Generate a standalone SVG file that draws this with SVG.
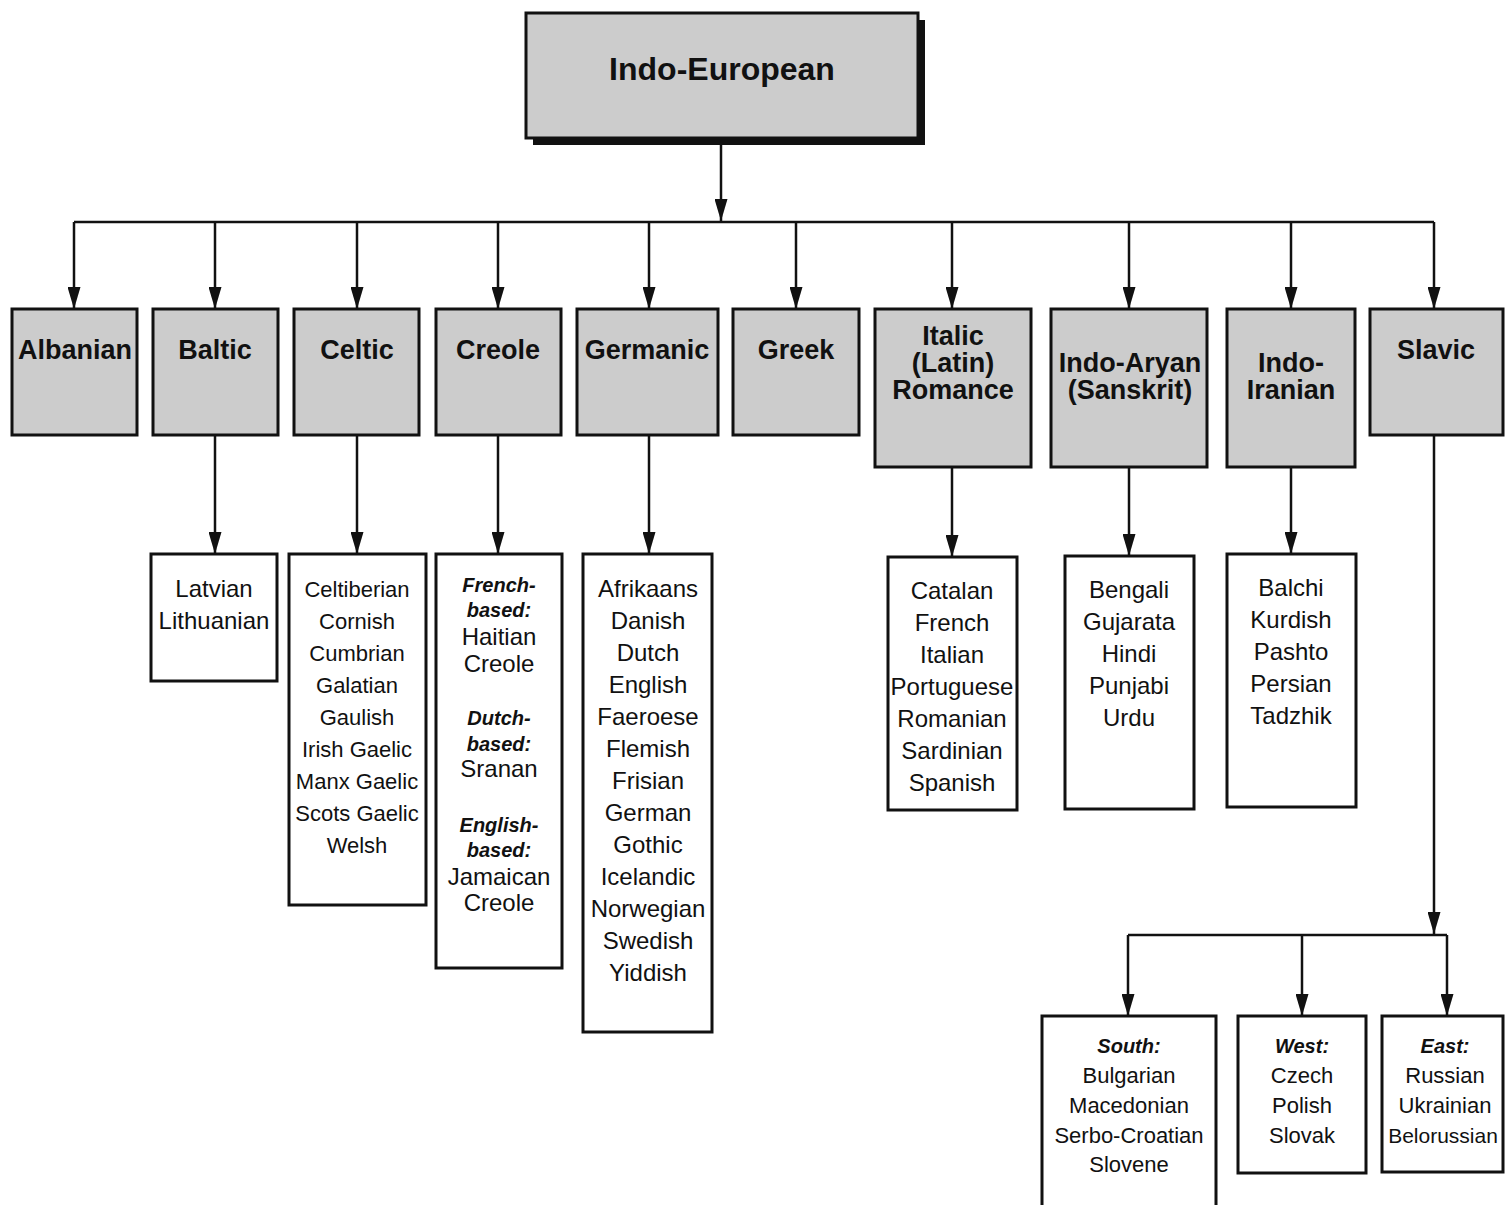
<svg xmlns="http://www.w3.org/2000/svg" width="1505" height="1205" viewBox="0 0 1505 1205">
<style>
.fam{fill:#cccccc;stroke:#111;stroke-width:3}
.lst{fill:#ffffff;stroke:#111;stroke-width:3}
.conn{fill:none;stroke:#111;stroke-width:2.5;marker-end:url(#ah)}
.bar{fill:none;stroke:#111;stroke-width:2.5}
text{font-family:"Liberation Sans",Arial,sans-serif;text-anchor:middle;fill:#111}
.ft{font-size:27px;font-weight:bold}
.l24{font-size:24px}
.l22{font-size:22px}
.bi{font-size:20px;font-weight:bold;font-style:italic}
</style>
<defs>
<marker id="ah" viewBox="0 0 22 13" refX="22" refY="6.5" markerWidth="22" markerHeight="13" markerUnits="userSpaceOnUse" orient="auto">
<path d="M0,0 L22,6.5 L0,13 z" fill="#111"/>
</marker>
</defs>
<rect width="1505" height="1205" fill="#ffffff"/>

<g id="connectors">
<path class="conn" d="M721,138 V221"/>
<path class="bar" d="M74,222 H1434"/>
<path class="conn" d="M74,222 V309"/>
<path class="conn" d="M215,222 V309"/>
<path class="conn" d="M357,222 V309"/>
<path class="conn" d="M498,222 V309"/>
<path class="conn" d="M649,222 V309"/>
<path class="conn" d="M796,222 V309"/>
<path class="conn" d="M952,222 V309"/>
<path class="conn" d="M1129,222 V309"/>
<path class="conn" d="M1291,222 V309"/>
<path class="conn" d="M1434,222 V309"/>
<path class="conn" d="M215,435 V554"/>
<path class="conn" d="M357,435 V554"/>
<path class="conn" d="M498,435 V554"/>
<path class="conn" d="M649,435 V554"/>
<path class="conn" d="M952,467 V557"/>
<path class="conn" d="M1129,467 V556"/>
<path class="conn" d="M1291,467 V554"/>
<path class="conn" d="M1434,435 V934"/>
<path class="bar" d="M1128,935 H1447"/>
<path class="conn" d="M1128,935 V1016"/>
<path class="conn" d="M1302,935 V1016"/>
<path class="conn" d="M1447,935 V1016"/>
</g>

<g id="indo-european">
<rect x="533" y="20" width="392" height="125" fill="#111"/>
<rect class="fam" x="526" y="13" width="392" height="125"/>
<text x="722" y="80" style="font-size:32px;font-weight:bold">Indo-European</text>
</g>

<g id="albanian">
<rect class="fam" x="12" y="309" width="125" height="126"/>
<text class="ft" x="75" y="359">Albanian</text>
</g>
<g id="baltic">
<rect class="fam" x="153" y="309" width="125" height="126"/>
<text class="ft" x="215" y="359">Baltic</text>
</g>
<g id="celtic">
<rect class="fam" x="294" y="309" width="125" height="126"/>
<text class="ft" x="357" y="359">Celtic</text>
</g>
<g id="creole">
<rect class="fam" x="436" y="309" width="125" height="126"/>
<text class="ft" x="498" y="359">Creole</text>
</g>
<g id="germanic">
<rect class="fam" x="577" y="309" width="141" height="126"/>
<text class="ft" x="647" y="359">Germanic</text>
</g>
<g id="greek">
<rect class="fam" x="733" y="309" width="126" height="126"/>
<text class="ft" x="796" y="359">Greek</text>
</g>
<g id="italic">
<rect class="fam" x="875" y="309" width="156" height="158"/>
<text class="ft" x="953" y="345">Italic</text>
<text class="ft" x="953" y="372">(Latin)</text>
<text class="ft" x="953" y="399">Romance</text>
</g>
<g id="indo-aryan">
<rect class="fam" x="1051" y="309" width="156" height="158"/>
<text class="ft" x="1130" y="372">Indo-Aryan</text>
<text class="ft" x="1130" y="399">(Sanskrit)</text>
</g>
<g id="indo-iranian">
<rect class="fam" x="1227" y="309" width="128" height="158"/>
<text class="ft" x="1291" y="372">Indo-</text>
<text class="ft" x="1291" y="399">Iranian</text>
</g>
<g id="slavic">
<rect class="fam" x="1370" y="309" width="133" height="126"/>
<text class="ft" x="1436" y="359">Slavic</text>
</g>

<g id="baltic-list">
<rect class="lst" x="151" y="554" width="126" height="127"/>
<text class="l24" x="214" y="597">Latvian</text>
<text class="l24" x="214" y="629">Lithuanian</text>
</g>
<g id="celtic-list">
<rect class="lst" x="289" y="554" width="137" height="351"/>
<text class="l22" x="357" y="597">Celtiberian</text>
<text class="l22" x="357" y="629">Cornish</text>
<text class="l22" x="357" y="661">Cumbrian</text>
<text class="l22" x="357" y="693">Galatian</text>
<text class="l22" x="357" y="725">Gaulish</text>
<text class="l22" x="357" y="757">Irish Gaelic</text>
<text class="l22" x="357" y="789">Manx Gaelic</text>
<text class="l22" x="357" y="821">Scots Gaelic</text>
<text class="l22" x="357" y="853">Welsh</text>
</g>
<g id="creole-list">
<rect class="lst" x="436" y="554" width="126" height="414"/>
<text class="bi" x="499" y="592">French-</text>
<text class="bi" x="499" y="617">based:</text>
<text class="l24" x="499" y="645">Haitian</text>
<text class="l24" x="499" y="672">Creole</text>
<text class="bi" x="499" y="725">Dutch-</text>
<text class="bi" x="499" y="751">based:</text>
<text class="l24" x="499" y="777">Sranan</text>
<text class="bi" x="499" y="832">English-</text>
<text class="bi" x="499" y="857">based:</text>
<text class="l24" x="499" y="885">Jamaican</text>
<text class="l24" x="499" y="911">Creole</text>
</g>
<g id="germanic-list">
<rect class="lst" x="583" y="554" width="129" height="478"/>
<text class="l24" x="648" y="597">Afrikaans</text>
<text class="l24" x="648" y="629">Danish</text>
<text class="l24" x="648" y="661">Dutch</text>
<text class="l24" x="648" y="693">English</text>
<text class="l24" x="648" y="725">Faeroese</text>
<text class="l24" x="648" y="757">Flemish</text>
<text class="l24" x="648" y="789">Frisian</text>
<text class="l24" x="648" y="821">German</text>
<text class="l24" x="648" y="853">Gothic</text>
<text class="l24" x="648" y="885">Icelandic</text>
<text class="l24" x="648" y="917">Norwegian</text>
<text class="l24" x="648" y="949">Swedish</text>
<text class="l24" x="648" y="981">Yiddish</text>
</g>
<g id="italic-list">
<rect class="lst" x="888" y="557" width="129" height="253"/>
<text class="l24" x="952" y="599">Catalan</text>
<text class="l24" x="952" y="631">French</text>
<text class="l24" x="952" y="663">Italian</text>
<text class="l24" x="952" y="695">Portuguese</text>
<text class="l24" x="952" y="727">Romanian</text>
<text class="l24" x="952" y="759">Sardinian</text>
<text class="l24" x="952" y="791">Spanish</text>
</g>
<g id="indo-aryan-list">
<rect class="lst" x="1065" y="556" width="129" height="253"/>
<text class="l24" x="1129" y="598">Bengali</text>
<text class="l24" x="1129" y="630">Gujarata</text>
<text class="l24" x="1129" y="662">Hindi</text>
<text class="l24" x="1129" y="694">Punjabi</text>
<text class="l24" x="1129" y="726">Urdu</text>
</g>
<g id="indo-iranian-list">
<rect class="lst" x="1227" y="554" width="129" height="253"/>
<text class="l24" x="1291" y="596">Balchi</text>
<text class="l24" x="1291" y="628">Kurdish</text>
<text class="l24" x="1291" y="660">Pashto</text>
<text class="l24" x="1291" y="692">Persian</text>
<text class="l24" x="1291" y="724">Tadzhik</text>
</g>
<g id="slavic-south">
<rect class="lst" x="1042" y="1016" width="174" height="200"/>
<text class="bi" x="1129" y="1053">South:</text>
<text class="l22" x="1129" y="1083">Bulgarian</text>
<text class="l22" x="1129" y="1113">Macedonian</text>
<text class="l22" x="1129" y="1143">Serbo-Croatian</text>
<text class="l22" x="1129" y="1172">Slovene</text>
</g>
<g id="slavic-west">
<rect class="lst" x="1238" y="1016" width="128" height="157"/>
<text class="bi" x="1302" y="1053">West:</text>
<text class="l22" x="1302" y="1083">Czech</text>
<text class="l22" x="1302" y="1113">Polish</text>
<text class="l22" x="1302" y="1143">Slovak</text>
</g>
<g id="slavic-east">
<rect class="lst" x="1382" y="1016" width="121" height="156"/>
<text class="bi" x="1445" y="1053">East:</text>
<text class="l22" x="1445" y="1083">Russian</text>
<text class="l22" x="1445" y="1113">Ukrainian</text>
<text style="font-size:21px" x="1443" y="1143">Belorussian</text>
</g>
</svg>
